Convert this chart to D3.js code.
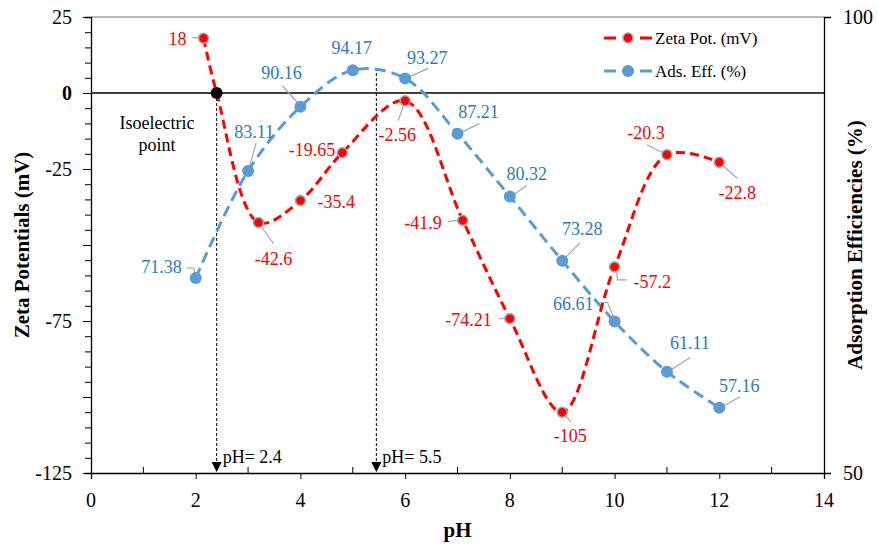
<!DOCTYPE html>
<html>
<head>
<meta charset="utf-8">
<script src="https://cdn.jsdelivr.net/npm/d3@7"></script>
<style>
  body { margin: 0; background: #fff; }
  svg text { font-family: "Liberation Serif", "Times New Roman", serif; }
</style>
</head>
<body>
<div id="chart"></div>
<script>
// data
var zetaPH    = [2.15, 2.4, 3.2, 4, 4.8, 6, 7.1, 8, 9, 10, 11, 12];
var zetaVal   = [18, 0, -42.6, -35.4, -19.65, -2.56, -41.9, -74.21, -105, -57.2, -20.3, -22.8];
var zetaLabel = ["18", "", "-42.6", "-35.4", "-19.65", "-2.56", "-41.9", "-74.21", "-105", "-57.2", "-20.3", "-22.8"];

var adsPH    = [2, 3, 4, 5, 6, 7, 8, 9, 10, 11, 12];
var adsVal   = [71.38, 83.11, 90.16, 94.17, 93.27, 87.21, 80.32, 73.28, 66.61, 61.11, 57.16];
var adsLabel = ["71.38", "83.11", "90.16", "94.17", "93.27", "87.21", "80.32", "73.28", "66.61", "61.11", "57.16"];

var isoPH = 2.4, isoZeta = 0;
var peakPH = 5.45, peakAds = 94.4;

var xTicks = [0, 2, 4, 6, 8, 10, 12, 14];
var zetaTicks = [25, 0, -25, -75, -125];
var adsTicks = [50, 100];

// label placement (pixel offsets from the point): [dx, dy, anchor, leader]
var zetaLab = [
  [-17, 0, "end", [[-11, -1], [-3, 0]]],
  null,
  [15, 36, "middle", [[15, 21], [2, 3]]],
  [17, 1, "start", null],
  [-7, -3, "end", null],
  [-8, 34, "middle", [[-7, 20], [-1, 3]]],
  [-21, 2, "end", [[-15, 1], [-3, 0]]],
  [-18, 1, "end", [[-11, 0], [-3, 0]]],
  [8, 23, "middle", [[9, 10], [1, 1]]],
  [19, 15, "start", [[2, 4], [3, 13], [12, 13]]],
  [-21, -22, "middle", [[-20, -10], [-2, -1]]],
  [18, 30, "middle", [[18, 16], [2, 2]]]
];
var adsLab = [
  [-14, -11, "end", [[-9, -10], [-2, -10], [0, -2]]],
  [6, -39, "middle", [[8, -28], [1, -3]]],
  [-19, -34, "middle", [[-18, -21], [-1, -2]]],
  [-1, -22, "middle", null],
  [22, -21, "middle", [[23, -10], [1, 0]]],
  [21, -22, "middle", [[22, -10], [1, 0]]],
  [17, -23, "middle", [[17, -11], [1, 0]]],
  [20, -32, "middle", [[18, -18], [1, -1]]],
  [-21, -18, "end", [[-15, -19], [-7, -19], [0, -2]]],
  [23, -29, "middle", [[23, -14], [1, 0]]],
  [20, -22, "middle", [[21, -11], [1, 0]]]
];

var W = 877, H = 544;
var margin = {top: 17, right: 53, bottom: 71, left: 91};
var width = W - margin.left - margin.right,
    height = H - margin.top - margin.bottom;

var RED = "#ff0000", BLUE = "#5b9bd5", BLUE_TXT = "#2a7bc2", GREY = "#a6a6a6";

var svg = d3.select("#chart").append("svg")
  .attr("width", W).attr("height", H)
.append("g")
  .attr("transform", "translate(" + margin.left + "," + margin.top + ")");

var x = d3.scaleLinear().domain([0, 14]).range([0, width]);
var yL = d3.scaleLinear().domain([-125, 25]).range([height, 0]);
var yR = d3.scaleLinear().domain([50, 100]).range([height, 0]);

// frame top
svg.append("line").attr("x1", 0).attr("x2", width).attr("y1", 0).attr("y2", 0)
  .attr("stroke", "#767676").attr("stroke-width", 1.2);

// left axis: minor ticks every 5, labels only where shown
var gL = svg.append("g").call(d3.axisLeft(yL).tickValues(d3.range(-125, 26, 5)).tickSize(6).tickFormat(""));
gL.selectAll("text").remove();
gL.selectAll("g.tick").filter(function(d) { return d % 25 == 0; }).select("line").attr("x2", -8);
gL.selectAll(".ltick").data(zetaTicks).enter().append("text")
  .attr("x", -19).attr("y", function(d) { return yL(d); }).attr("dy", "0.35em")
  .attr("text-anchor", "end").attr("fill", "#000").style("font-size", "20px")
  .style("font-weight", function(d) { return d == 0 ? "bold" : "normal"; })
  .text(function(d) { return d; });

// right axis
var gR = svg.append("g").attr("transform", "translate(" + width + ",0)")
  .call(d3.axisRight(yR).tickValues(adsTicks).tickSize(7).tickFormat(""));
gR.selectAll(".rtick").data(adsTicks).enter().append("text")
  .attr("x", 19).attr("y", function(d) { return yR(d); }).attr("dy", "0.35em")
  .attr("fill", "#000").style("font-size", "20px").text(function(d) { return d; });

// bottom axis: majors outward, minors inward
var gB = svg.append("g").attr("transform", "translate(0," + height + ")")
  .call(d3.axisBottom(x).tickValues(xTicks).tickSize(6).tickFormat(""));
gB.selectAll(".btick").data(xTicks).enter().append("text")
  .attr("x", function(d) { return x(d); }).attr("y", 27).attr("dy", "0.35em")
  .attr("text-anchor", "middle").attr("fill", "#000").style("font-size", "20px").text(function(d) { return d; });
gB.selectAll(".minor").data([1, 3, 5, 7, 9, 11, 13]).enter().append("line")
  .attr("x1", function(d) { return x(d); }).attr("x2", function(d) { return x(d); })
  .attr("y1", 0).attr("y2", -6).attr("stroke", "#000");

svg.selectAll(".domain").attr("stroke", "#000").attr("stroke-width", 1.3);
svg.selectAll(".tick line").attr("stroke", "#000");

// zero line
svg.append("line").attr("x1", 0).attr("x2", width).attr("y1", yL(0)).attr("y2", yL(0))
  .attr("stroke", "#000").attr("stroke-width", 1.5);

// axis titles
svg.append("text").attr("transform", "translate(" + (22 - margin.left) + "," + (height / 2) + ") rotate(-90)")
  .attr("text-anchor", "middle").attr("dy", "0.35em")
  .style("font-size", "21px").style("font-weight", "bold").text("Zeta Potentials (mV)");
svg.append("text").attr("transform", "translate(" + (width + 31) + "," + (height / 2) + ") rotate(-90)")
  .attr("text-anchor", "middle").attr("dy", "0.35em")
  .style("font-size", "21px").style("font-weight", "bold").text("Adsorption Efficiencies (%)");
svg.append("text").attr("x", width / 2).attr("y", height + 57).attr("dy", "0.35em")
  .attr("text-anchor", "middle").style("font-size", "21px").style("font-weight", "bold").text("pH");

// dashed drop lines with arrows
var drops = [
  {ph: isoPH, top: yL(isoZeta), label: "pH= 2.4"},
  {ph: peakPH, top: yR(peakAds), label: "pH= 5.5"}
];
drops.forEach(function(d) {
  var px = x(d.ph);
  svg.append("line").attr("x1", px).attr("x2", px).attr("y1", d.top).attr("y2", height - 8)
    .attr("stroke", "#000").attr("stroke-width", 1).attr("stroke-dasharray", "3,2");
  svg.append("path").attr("d", "M" + (px - 5) + "," + (height - 11) + "L" + (px + 5) + "," + (height - 11) + "L" + px + "," + (height - 1) + "Z")
    .attr("fill", "#000");
  svg.append("text").attr("x", px + 6).attr("y", height - 16).attr("dy", "0.35em")
    .style("font-size", "18px").text(d.label);
});

svg.append("text").attr("x", 157 - margin.left).attr("y", 123 - margin.top).attr("dy", "0.35em")
  .attr("text-anchor", "middle").style("font-size", "18px").text("Isoelectric");
svg.append("text").attr("x", 157 - margin.left).attr("y", 145 - margin.top).attr("dy", "0.35em")
  .attr("text-anchor", "middle").style("font-size", "18px").text("point");

// lines
var zetaData = zetaPH.map(function(p, i) { return {x: p, y: zetaVal[i], label: zetaLabel[i], lab: zetaLab[i]}; });
var adsData = adsPH.map(function(p, i) { return {x: p, y: adsVal[i], label: adsLabel[i], lab: adsLab[i]}; });

var zetaLine = d3.line().x(function(d) { return x(d.x); }).y(function(d) { return yL(d.y); })
  .curve(d3.curveCatmullRom.alpha(0.5));
var adsLine = d3.line().x(function(d) { return x(d.x); }).y(function(d) { return yR(d.y); })
  .curve(d3.curveCatmullRom.alpha(0.5));

svg.append("path").datum(adsData).attr("d", adsLine)
  .attr("fill", "none").attr("stroke", BLUE).attr("stroke-width", 3).attr("stroke-dasharray", "11,6");
svg.append("path").datum(zetaData).attr("d", zetaLine)
  .attr("fill", "none").attr("stroke", RED).attr("stroke-width", 3).attr("stroke-dasharray", "9,5");

// leaders + labels
function drawLabels(data, yScale, color) {
  data.forEach(function(d) {
    if (!d.lab) return;
    var px = x(d.x), py = yScale(d.y);
    if (d.lab[3]) {
      svg.append("polyline")
        .attr("points", d.lab[3].map(function(p) { return (px + p[0]) + "," + (py + p[1]); }).join(" "))
        .attr("fill", "none").attr("stroke", GREY).attr("stroke-width", 1.2);
    }
    svg.append("text").attr("x", px + d.lab[0]).attr("y", py + d.lab[1]).attr("dy", "0.35em")
      .attr("text-anchor", d.lab[2]).attr("fill", color).style("font-size", "18px").text(d.label);
  });
}
drawLabels(adsData, yR, BLUE_TXT);
drawLabels(zetaData, yL, RED);

// markers
svg.selectAll(".adsDot").data(adsData).enter().append("circle")
  .attr("cx", function(d) { return x(d.x); }).attr("cy", function(d) { return yR(d.y); })
  .attr("r", 6).attr("fill", BLUE);
svg.selectAll(".zetaDot").data(zetaData.filter(function(d) { return d.x != isoPH; })).enter().append("circle")
  .attr("cx", function(d) { return x(d.x); }).attr("cy", function(d) { return yL(d.y); })
  .attr("r", 5).attr("fill", RED).attr("stroke", GREY).attr("stroke-width", 1.6);
svg.append("circle").attr("cx", x(isoPH)).attr("cy", yL(isoZeta)).attr("r", 6).attr("fill", "#000");

// legend
var legend = [
  {name: "Zeta Pot. (mV)", color: RED, dash: "9,5", r: 5, stroke: GREY},
  {name: "Ads. Eff. (%)", color: BLUE, dash: "11,6", r: 6, stroke: "none"}
];
var lg = svg.append("g").attr("transform", "translate(" + (604 - margin.left) + "," + (38 - margin.top) + ")");
legend.forEach(function(d, i) {
  var g = lg.append("g").attr("transform", "translate(0," + (i * 33) + ")");
  g.append("line").attr("x1", 0).attr("x2", 12).attr("stroke", d.color).attr("stroke-width", 3);
  g.append("line").attr("x1", 36).attr("x2", 48).attr("stroke", d.color).attr("stroke-width", 3);
  g.append("circle").attr("cx", 24).attr("r", d.r).attr("fill", d.color).attr("stroke", d.stroke).attr("stroke-width", 1.6);
  g.append("text").attr("x", 51).attr("dy", "0.35em").style("font-size", "17px").text(d.name);
});
</script>
</body>
</html>
